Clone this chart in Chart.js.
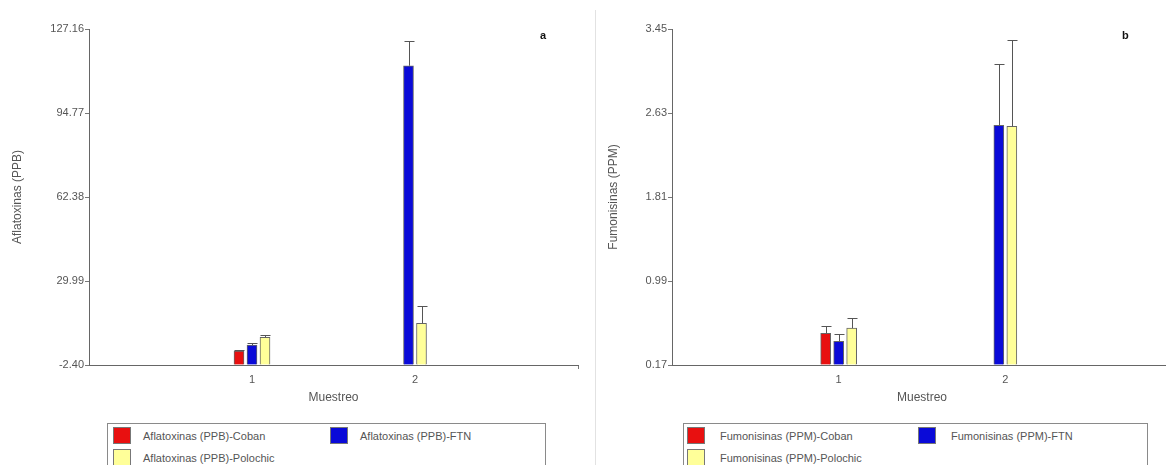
<!DOCTYPE html>
<html>
<head>
<meta charset="utf-8">
<script src="https://cdn.jsdelivr.net/npm/chart.js@4.4.1/dist/chart.umd.min.js"></script>
<style>
  html, body { margin: 0; padding: 0; background: #fff; overflow: hidden; }
  body { width: 1166px; height: 465px; position: relative; font-family: 'Liberation Sans', Arial, sans-serif; }
  .panel { position: absolute; top: 0; width: 594px; height: 410px; }
  .sep { position: absolute; left: 595px; top: 10px; width: 1px; height: 460px; background: #e2e2e2; }
  .tag { position: absolute; top: 29px; font-size: 11px; font-weight: bold; color: #111; }
  .legend { position: absolute; top: 423px; height: 60px; border: 1px solid #8a8a8a; box-sizing: border-box; }
  .item { position: absolute; font-size: 11px; color: #555; line-height: 17px; white-space: nowrap; }
  .item i { position: absolute; left: 0; top: 0; width: 18px; height: 17px; box-sizing: border-box; border: 1px solid #777; }
  .item span { position: absolute; left: 30px; top: 1px; }
</style>
</head>
<body>
<div class="panel" style="left:0"><canvas id="chart-a"></canvas></div>
<div class="panel" style="left:596px"><canvas id="chart-b"></canvas></div>
<div class="sep"></div>
<div class="tag" style="left:540px">a</div>
<div class="tag" style="left:1122px">b</div>
<div class="legend" id="legend-a" style="left:107px; width:439px"></div>
<div class="legend" id="legend-b" style="left:683px; width:465px"></div>

<script>
// categorías del eje x (los extremos vacíos sólo dan margen)
var MUESTREO = ['', '1', '2', ''];

var SERIES_A = ['Aflatoxinas (PPB)-Coban', 'Aflatoxinas (PPB)-FTN', 'Aflatoxinas (PPB)-Polochic'];
var COBAN_A    = [null, 3.0, null, null];
var FTN_A      = [null, 5.3, 113.0, null];
var POLOCHIC_A = [null, 8.3, 13.7, null];
var ERR_COBAN_A    = [0, 0.5, 0, 0];
var ERR_FTN_A      = [0, 0.6, 9.6, 0];
var ERR_POLOCHIC_A = [0, 1.0, 6.8, 0];
var TICKS_A = [-2.40, 29.99, 62.38, 94.77, 127.16];

var SERIES_B = ['Fumonisinas (PPM)-Coban', 'Fumonisinas (PPM)-FTN', 'Fumonisinas (PPM)-Polochic'];
var COBAN_B    = [null, 0.48, null, null];
var FTN_B      = [null, 0.40, 2.51, null];
var POLOCHIC_B = [null, 0.53, 2.50, null];
var ERR_COBAN_B    = [0, 0.075, 0, 0];
var ERR_FTN_B      = [0, 0.075, 0.60, 0];
var ERR_POLOCHIC_B = [0, 0.10, 0.84, 0];
var TICKS_B = [0.17, 0.99, 1.81, 2.63, 3.45];

var COLORS = ['#e81010', '#0a0ad8', '#ffff99'];

/* barras más angostas que su hueco + barras de error hacia arriba */
var barPlugin = {
  id: 'errorBars',
  beforeDatasetsDraw: function (chart) {
    chart.data.datasets.forEach(function (ds, di) {
      chart.getDatasetMeta(di).data.forEach(function (el) { el.width = 10; });
    });
  },
  afterDatasetsDraw: function (chart) {
    var ctx = chart.ctx;
    var y = chart.scales.y;
    ctx.save();
    ctx.strokeStyle = '#555';
    ctx.lineWidth = 1;
    chart.data.datasets.forEach(function (ds, di) {
      chart.getDatasetMeta(di).data.forEach(function (el, i) {
        var v = ds.data[i];
        if (v === null || !ds.errors[i]) return;
        var top = Math.round(y.getPixelForValue(v + ds.errors[i])) + 0.5;
        var x = Math.round(el.x) + 0.5;
        ctx.beginPath();
        ctx.moveTo(x, el.y);
        ctx.lineTo(x, top);
        ctx.moveTo(x - 5, top);
        ctx.lineTo(x + 5, top);
        ctx.stroke();
      });
    });
    ctx.restore();
  },
};

function makeChart(id, names, values, errors, ticks, yTitle, yWidth, rightPad) {
  var datasets = names.map(function (n, k) {
    return {
      label: n,
      data: values[k],
      errors: errors[k],
      base: ticks[0],
      backgroundColor: COLORS[k],
      borderColor: '#666',
      borderWidth: 1,
      barThickness: 13,
      skipNull: true,
    };
  });

  return new Chart(document.getElementById(id), {
    type: 'bar',
    data: { labels: MUESTREO, datasets: datasets },
    plugins: [barPlugin],
    options: {
      responsive: false,
      animation: false,
      layout: { padding: { left: 0, top: 29, right: rightPad, bottom: 0 } },
      plugins: { legend: { display: false }, tooltip: { enabled: false } },
      scales: {
        x: {
          offset: false,
          grid: {
            offset: false,
            drawOnChartArea: false,
            tickLength: 4,
            color: function (c) { return c.index === 3 ? '#777' : 'rgba(0,0,0,0)'; },
          },
          border: { color: '#666', width: 1 },
          ticks: { color: '#555', font: { family: 'Liberation Sans', size: 11 }, padding: 4, autoSkip: false, maxRotation: 0 },
          title: { display: true, text: 'Muestreo', color: '#555', font: { family: 'Liberation Sans', size: 12 }, padding: { top: 0, bottom: 5 } },
          afterFit: function (s) { s.height = 45; },
        },
        y: {
          min: ticks[0],
          max: ticks[ticks.length - 1],
          afterBuildTicks: function (s) { s.ticks = ticks.map(function (v) { return { value: v }; }); },
          grid: { drawOnChartArea: false, tickLength: 4, color: '#777' },
          border: { color: '#666', width: 1 },
          ticks: {
            color: '#555',
            font: { family: 'Liberation Sans', size: 11 },
            padding: 1,
            callback: function (v) { return Number(v).toFixed(2); },
          },
          title: { display: true, text: yTitle, color: '#555', font: { family: 'Liberation Sans', size: 12 }, padding: { top: 10, bottom: 0 } },
          afterFit: function (s) { s.width = yWidth; },
        },
      },
    },
  });
}

function makeLegend(id, names, swatchX, textX) {
  var box = document.getElementById(id);
  names.forEach(function (n, k) {
    var d = document.createElement('div');
    d.className = 'item';
    d.style.left = swatchX[k % 2] + 'px';
    d.style.top = (k < 2 ? 3 : 25) + 'px';
    d.innerHTML = '<i style="background:' + COLORS[k] + '"></i><span style="left:' + textX + 'px">' + n + '</span>';
    box.appendChild(d);
  });
}

var a = document.getElementById('chart-a');
a.width = 594; a.height = 410;
var b = document.getElementById('chart-b');
b.width = 594; b.height = 410;

makeChart('chart-a', SERIES_A, [COBAN_A, FTN_A, POLOCHIC_A],
  [ERR_COBAN_A, ERR_FTN_A, ERR_POLOCHIC_A], TICKS_A, 'Aflatoxinas (PPB)', 89, 16);
makeChart('chart-b', SERIES_B, [COBAN_B, FTN_B, POLOCHIC_B],
  [ERR_COBAN_B, ERR_FTN_B, ERR_POLOCHIC_B], TICKS_B, 'Fumonisinas (PPM)', 76, 18);

makeLegend('legend-a', SERIES_A, [5, 222], 30);
makeLegend('legend-b', SERIES_B, [3, 234], 33);
</script>
</body>
</html>
